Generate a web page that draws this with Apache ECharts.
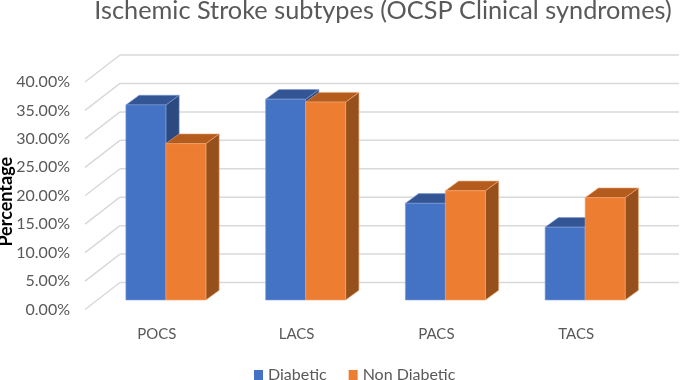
<!DOCTYPE html>
<html>
<head>
<meta charset="utf-8">
<style>html,body{margin:0;padding:0;background:#fff}#c{width:685px;height:380px}</style>
<script src="https://cdn.jsdelivr.net/npm/echarts@6/dist/echarts.min.js"></script>
</head>
<body>
<div id="c"></div>
<script>
var categories = ['POCS', 'LACS', 'PACS', 'TACS'];
var diabetic = [34.3, 35.3, 17.0, 12.8];
var nonDiabetic = [27.5, 34.8, 19.2, 18.0];
var yTicks = [0, 5, 10, 15, 20, 25, 30, 35, 40];

var FONT = 'Lato, "Open Sans", sans-serif';
var BAR_W = 40, BAR_DX = 11, BAR_DY = -9.5, DEPTH_DX = 13.3, DEPTH_DY = -9.7, BACK_DX = 35, BACK_DY = -27;

function cuboid(side, colors) {
  return function (params, api) {
    var i = api.value(0), v = api.value(1);
    var top = api.coord([i, v]), base = api.coord([i, 0]);
    var x0 = top[0] + BAR_DX + (side < 0 ? -BAR_W : 0), x1 = x0 + BAR_W;
    var yT = top[1] + BAR_DY, yB = base[1] + BAR_DY;
    function poly(points, fill) {
      return { type: 'polygon', shape: { points: points }, style: { fill: fill, stroke: colors.edge, lineWidth: 0.6 } };
    }
    return { type: 'group', children: [
      poly([[x1, yB], [x1 + DEPTH_DX, yB + DEPTH_DY], [x1 + DEPTH_DX, yT + DEPTH_DY], [x1, yT]], colors.side),
      poly([[x0, yT], [x1, yT], [x1 + DEPTH_DX, yT + DEPTH_DY], [x0 + DEPTH_DX, yT + DEPTH_DY]], colors.top),
      poly([[x0, yB], [x1, yB], [x1, yT], [x0, yT]], colors.face)
    ] };
  };
}

function wallLines(params, api) {
  var v = api.value(0);
  var cs = params.coordSys;
  var y = api.coord([0, v])[1];
  var style = { stroke: '#d9d9d9', lineWidth: 1.5, fill: null };
  return { type: 'group', children: [
    { type: 'line', shape: { x1: cs.x, y1: y, x2: cs.x + BACK_DX, y2: y + BACK_DY }, style: style },
    { type: 'line', shape: { x1: cs.x + BACK_DX, y1: y + BACK_DY, x2: cs.x + BACK_DX + cs.width, y2: y + BACK_DY }, style: style }
  ] };
}

function pairs(values) { return values.map(function (v, i) { return [i, v]; }); }

var blue = { face: '#4472C4', top: '#335593', side: '#2C4A80', edge: '#7f9ed6' };
var orange = { face: '#ED7D31', top: '#B35C1E', side: '#96501C', edge: '#f2a673' };

var chart = echarts.init(document.getElementById('c'), null, { renderer: 'canvas' });
chart.setOption({
  animation: false,
  backgroundColor: '#fff',
  title: {
    text: 'Ischemic Stroke subtypes (OCSP Clinical syndromes)',
    left: 383, top: -2, padding: 0, textAlign: 'center',
    textStyle: { fontFamily: FONT, fontSize: 25.3, fontWeight: 'normal', color: '#595959' }
  },
  legend: {
    data: ['Diabetic', 'Non Diabetic'],
    left: 254, top: 367, padding: 0, icon: 'rect', itemWidth: 9, itemHeight: 10, itemGap: 22,
    textStyle: { fontFamily: FONT, fontSize: 16, color: '#595959' }
  },
  grid: { left: 85, top: 82, width: 559, height: 227.5, outerBoundsMode: 'none', containLabel: false },
  xAxis: {
    type: 'category', data: categories,
    axisLine: { show: false }, axisTick: { show: false }, splitLine: { show: false },
    axisLabel: { margin: 17, padding: [0, 0, 0, 4], fontFamily: FONT, fontSize: 15, color: '#595959' }
  },
  yAxis: {
    type: 'value', min: 0, max: 40, interval: 5,
    name: 'Percentage', nameLocation: 'middle', nameGap: 70, nameRotate: 90, nameMoveOverlap: false,
    nameTextStyle: { fontFamily: FONT, fontSize: 18, fontWeight: 'bold', color: '#000', padding: [0, 12, 0, 0] },
    axisLine: { show: false }, axisTick: { show: false }, splitLine: { show: false },
    axisLabel: {
      margin: 15, padding: [3, 0, 0, 0], fontFamily: FONT, fontSize: 16, color: '#595959',
      formatter: function (v) { return v.toFixed(2) + '%'; }
    }
  },
  series: [
    { type: 'custom', name: 'walls', silent: true, z: 1, renderItem: wallLines, encode: { y: 0 }, data: yTicks.map(function (t) { return [t]; }) },
    { type: 'custom', name: 'Diabetic', z: 2, itemStyle: { color: blue.face }, renderItem: cuboid(-1, blue), encode: { x: 0, y: 1 }, data: pairs(diabetic) },
    { type: 'custom', name: 'Non Diabetic', z: 3, itemStyle: { color: orange.face }, renderItem: cuboid(1, orange), encode: { x: 0, y: 1 }, data: pairs(nonDiabetic) }
  ]
});
</script>
</body>
</html>
